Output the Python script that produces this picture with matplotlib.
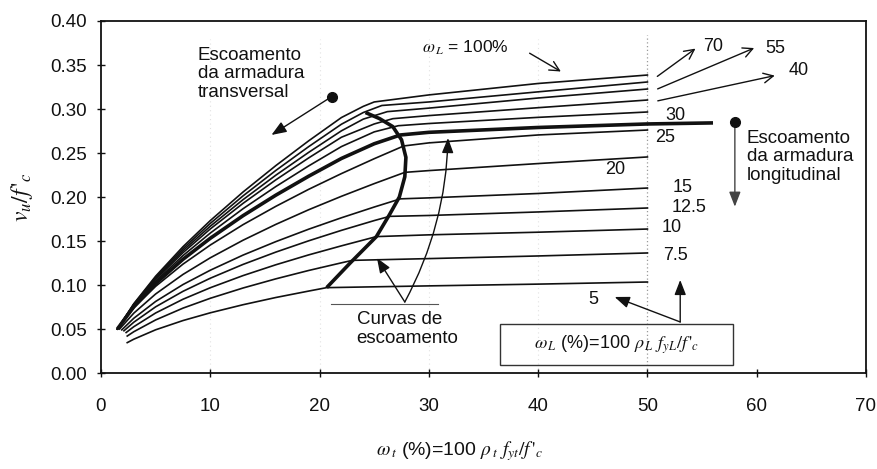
import matplotlib
matplotlib.use("Agg")
import matplotlib.pyplot as plt
from matplotlib.patches import Rectangle

plt.rcParams['font.family'] = ['Liberation Sans', 'DejaVu Sans']
plt.rcParams['mathtext.fontset'] = 'stix'

# ---- shear strength curves v_u/f'c versus omega_t (%) for each omega_L (%) ----
w5_t = [2.4, 3, 5, 7.5, 10, 13, 16, 19, 20.65, 30, 40, 50]
w5_v = [0.0345, 0.0384, 0.0491, 0.0596, 0.0684, 0.0776, 0.0858, 0.0931, 0.0970, 0.0990, 0.1010, 0.1034]

w7_5_t = [2.4, 3, 5, 7.5, 10, 13, 16, 19, 22, 23.0, 30, 40, 50]
w7_5_v = [0.042, 0.0469, 0.0603, 0.0737, 0.0849, 0.0966, 0.1070, 0.1165, 0.1252, 0.1280, 0.1300, 0.1330, 0.1364]

w10_t = [2.3, 3, 5, 7.5, 10, 13, 16, 19, 22, 25.2, 30, 40, 50]
w10_v = [0.046, 0.0526, 0.0682, 0.0838, 0.0969, 0.1107, 0.1230, 0.1342, 0.1445, 0.1550, 0.1570, 0.1600, 0.1636]

w12_5_t = [2.1, 3, 5, 7.5, 10, 13, 16, 19, 22, 25, 26.4, 30, 40, 50]
w12_5_v = [0.048, 0.0577, 0.0752, 0.0928, 0.1077, 0.1234, 0.1374, 0.1502, 0.1621, 0.1732, 0.1780, 0.1790, 0.1830, 0.1875]

w15_t = [1.9, 3, 5, 7.5, 10, 13, 16, 19, 22, 25, 27.4, 30, 40, 50]
w15_v = [0.049, 0.0622, 0.0813, 0.1005, 0.1168, 0.1340, 0.1493, 0.1634, 0.1764, 0.1886, 0.1979, 0.1990, 0.2040, 0.2102]

w20_t = [1.7, 3, 5, 7.5, 10, 13, 16, 19, 22, 25, 27.8, 30, 40, 50]
w20_v = [0.050, 0.0680, 0.0898, 0.1120, 0.1309, 0.1509, 0.1689, 0.1855, 0.2008, 0.2152, 0.2280, 0.2300, 0.2380, 0.2455]

w25_t = [1.5, 3, 5, 7.5, 10, 13, 16, 19, 22, 25, 27.7, 30, 40, 50]
w25_v = [0.050, 0.0739, 0.0985, 0.1237, 0.1454, 0.1686, 0.1894, 0.2087, 0.2266, 0.2435, 0.2580, 0.2615, 0.2705, 0.2761]

w30_t = [1.5, 3, 5, 7.5, 10, 13, 16, 19, 22, 25, 27.2, 30, 40, 50]
w30_v = [0.050, 0.0763, 0.1042, 0.1334, 0.1590, 0.1867, 0.2119, 0.2353, 0.2573, 0.2740, 0.2810, 0.2835, 0.2905, 0.2966]

w40_t = [1.5, 3, 5, 7.5, 10, 13, 16, 19, 22, 25, 26.7, 30, 40, 50]
w40_v = [0.050, 0.0771, 0.1061, 0.1367, 0.1637, 0.1928, 0.2195, 0.2444, 0.2679, 0.2830, 0.2890, 0.2925, 0.3015, 0.3102]

w55_t = [1.5, 3, 5, 7.5, 10, 13, 16, 19, 22, 24, 26.2, 30, 40, 50]
w55_v = [0.050, 0.0777, 0.1074, 0.1390, 0.1668, 0.1970, 0.2248, 0.2507, 0.2752, 0.2885, 0.2970, 0.3010, 0.3125, 0.3227]

w70_t = [1.5, 3, 5, 7.5, 10, 13, 16, 19, 22, 24, 25.7, 30, 40, 50]
w70_v = [0.050, 0.0782, 0.1087, 0.1412, 0.1700, 0.2013, 0.2302, 0.2572, 0.2827, 0.2960, 0.3040, 0.3080, 0.3195, 0.3307]

w100_t = [1.5, 3, 5, 7.5, 10, 13, 16, 19, 22, 24, 25.0, 30, 40, 50]
w100_v = [0.050, 0.0787, 0.1100, 0.1435, 0.1732, 0.2057, 0.2357, 0.2638, 0.2903, 0.3030, 0.3080, 0.3160, 0.3290, 0.3386]

# boundary where the longitudinal steel yields (heavy line)
long_yield_t = [1.5, 3, 5, 7.5, 10, 13, 16, 19, 22, 25, 27.4, 30, 40, 50, 56]
long_yield_v = [0.050, 0.0753, 0.1017, 0.1292, 0.1531, 0.1788, 0.2021, 0.2236, 0.2438, 0.2605, 0.2705, 0.2735, 0.2790, 0.2830, 0.2842]

# yield curve of the transverse steel (heavy C-shaped line)
trans_yield_t = [20.65, 22.8, 25.2, 26.4, 27.3, 27.8, 27.9, 27.5, 26.7, 25.5, 24.2]
trans_yield_v = [0.097, 0.125, 0.155, 0.180, 0.200, 0.223, 0.245, 0.265, 0.280, 0.289, 0.296]

curve_labels = ["70", "55", "40", "30", "25", "20", "15", "12.5", "10", "7.5", "5"]
x_ticks = [0, 10, 20, 30, 40, 50, 60, 70]
y_ticks = [0.00, 0.05, 0.10, 0.15, 0.20, 0.25, 0.30, 0.35, 0.40]

W, H = 877, 469
fig = plt.figure(figsize=(W / 100, H / 100), dpi=100)
ax = fig.add_axes([101 / W, 1 - 373 / H, 765 / W, 352 / H])
ax.set_xlim(0, 70)
ax.set_ylim(0, 0.40)

ink = '#111111'
series = [(w5_t, w5_v), (w7_5_t, w7_5_v), (w10_t, w10_v), (w12_5_t, w12_5_v),
          (w15_t, w15_v), (w20_t, w20_v), (w25_t, w25_v), (w30_t, w30_v),
          (w40_t, w40_v), (w55_t, w55_v), (w70_t, w70_v), (w100_t, w100_v)]

# faint vertical guides and the dotted line at omega_t = 50
for gx in [10, 20, 30, 40]:
    ax.plot([gx, gx], [0, 0.38], color='#e2e2e2', lw=0.8, ls=(0, (1, 3)), zorder=0)
ax.plot([50, 50], [0, 0.384], color='#9a9a9a', lw=0.9, ls=(0, (1, 2)), zorder=0)

for t, v in series:
    ax.plot(t, v, color=ink, lw=1.2, solid_joinstyle='round', zorder=2)
ax.plot(long_yield_t, long_yield_v, color=ink, lw=2.6, solid_capstyle='butt', zorder=3)
ax.plot(trans_yield_t, trans_yield_v, color=ink, lw=2.6, solid_capstyle='butt', zorder=3)

# axes styling
for s in ax.spines.values():
    s.set_linewidth(1.3)
    s.set_color(ink)
ax.set_xticks(x_ticks)
ax.set_xticklabels([str(x) for x in x_ticks])
ax.set_yticks(y_ticks)
ax.set_yticklabels([f"{y:.2f}" for y in y_ticks])
ax.tick_params(axis='x', direction='inout', length=6, width=1, pad=15, labelsize=13.5, colors=ink)
ax.tick_params(axis='y', direction='inout', length=6, width=1, pad=7, labelsize=13.5, colors=ink)

fs = 13.5

# numeric labels at the ends of the curves
label_pos = {"70": (55.1, 0.3705), "55": (60.75, 0.369), "40": (62.9, 0.344),
             "30": (51.6, 0.293), "25": (50.7, 0.268), "20": (46.1, 0.2307),
             "15": (52.3, 0.211), "12.5": (52.2, 0.1886), "10": (51.3, 0.165),
             "7.5": (51.4, 0.133), "5": (44.6, 0.083)}
for lab in curve_labels:
    x, y = label_pos[lab]
    ax.text(x, y, lab, fontsize=fs - 0.5, ha='left', va='center', color=ink)

open_arrow = dict(arrowstyle='->,head_length=0.7,head_width=0.35', color=ink, lw=1.0)
for (x0, y0), (x1, y1) in [((50.7, 0.3352), (54.6, 0.3705)),
                           ((50.7, 0.3216), (60.0, 0.3705)),
                           ((50.7, 0.3086), (61.9, 0.3386))]:
    ax.annotate('', xy=(x1, y1), xytext=(x0, y0), arrowprops=open_arrow)

# omega_L = 100 % pointer
ax.text(29.4, 0.369, r"$\omega_{\,L}$ = 100%", fontsize=fs - 1, ha='left', va='center', color=ink)
ax.annotate('', xy=(42.3, 0.341), xytext=(39.0, 0.365), arrowprops=open_arrow)

# transverse steel yielding
ax.text(8.87, 0.3705, "Escoamento\nda armadura\ntransversal", fontsize=fs, ha='left', va='top',
        linespacing=1.1, color=ink)
ax.plot([21.1], [0.314], 'o', color=ink, ms=7, zorder=4)
ax.annotate('', xy=(15.6, 0.2705), xytext=(21.1, 0.314),
            arrowprops=dict(arrowstyle='-|>,head_length=0.9,head_width=0.35', color=ink, lw=1.0,
                            shrinkA=0, shrinkB=0))

# longitudinal steel yielding
ax.plot([58.0], [0.2856], 'o', color=ink, ms=7, zorder=4)
ax.annotate('', xy=(58.0, 0.189), xytext=(58.0, 0.2856),
            arrowprops=dict(arrowstyle='-|>,head_length=0.9,head_width=0.35', color='#444444', lw=1.0,
                            shrinkA=0, shrinkB=0))
ax.text(59.1, 0.276, "Escoamento\nda armadura\nlongitudinal", fontsize=fs, ha='left', va='top',
        linespacing=1.1, color=ink)

# yield curves pointer
ax.plot([21.0, 30.8], [0.078, 0.078], color='#555555', lw=0.8)
ax.text(23.4, 0.050, "Curvas de\nescoamento", fontsize=fs, ha='left', va='center',
        linespacing=1.1, color=ink)
filled = dict(arrowstyle='-|>,head_length=0.9,head_width=0.35', color=ink, lw=1.0, shrinkA=0, shrinkB=0)
ax.annotate('', xy=(25.25, 0.1307), xytext=(27.8, 0.0807), arrowprops=filled)
ax.annotate('', xy=(31.75, 0.267), xytext=(27.8, 0.0807),
            arrowprops=dict(filled, connectionstyle='arc3,rad=0.12'))

# boxed definition of omega_L
ax.add_patch(Rectangle((36.5, 0.0091), 21.3, 0.0466, fill=False, ec='#333333', lw=1.0, zorder=4))
ax.text(47.15, 0.0324, r"$\omega_{\,L}$ (%)=100 $\rho_{\,L}$ $f_{yL}/f\,'_{c}$", fontsize=fs - 0.5,
        ha='center', va='center', color=ink)
ax.annotate('', xy=(53.0, 0.1057), xytext=(53.0, 0.058), arrowprops=filled)
ax.annotate('', xy=(47.0, 0.0864), xytext=(53.0, 0.058), arrowprops=filled)

# axis titles
fig.text(459.5 / W, 1 - 451 / H, r"$\omega_{\,t}$ (%)=100 $\rho_{\,t}$ $f_{yt}/f\,'_{c}$",
         ha='center', va='center', fontsize=14, color=ink)
fig.text(22 / W, 1 - 197 / H, r"$v_{u}/f\,'_{c}$", rotation=90, ha='center', va='center',
         fontsize=17, color=ink)

fig.savefig("out.png", dpi=100)
